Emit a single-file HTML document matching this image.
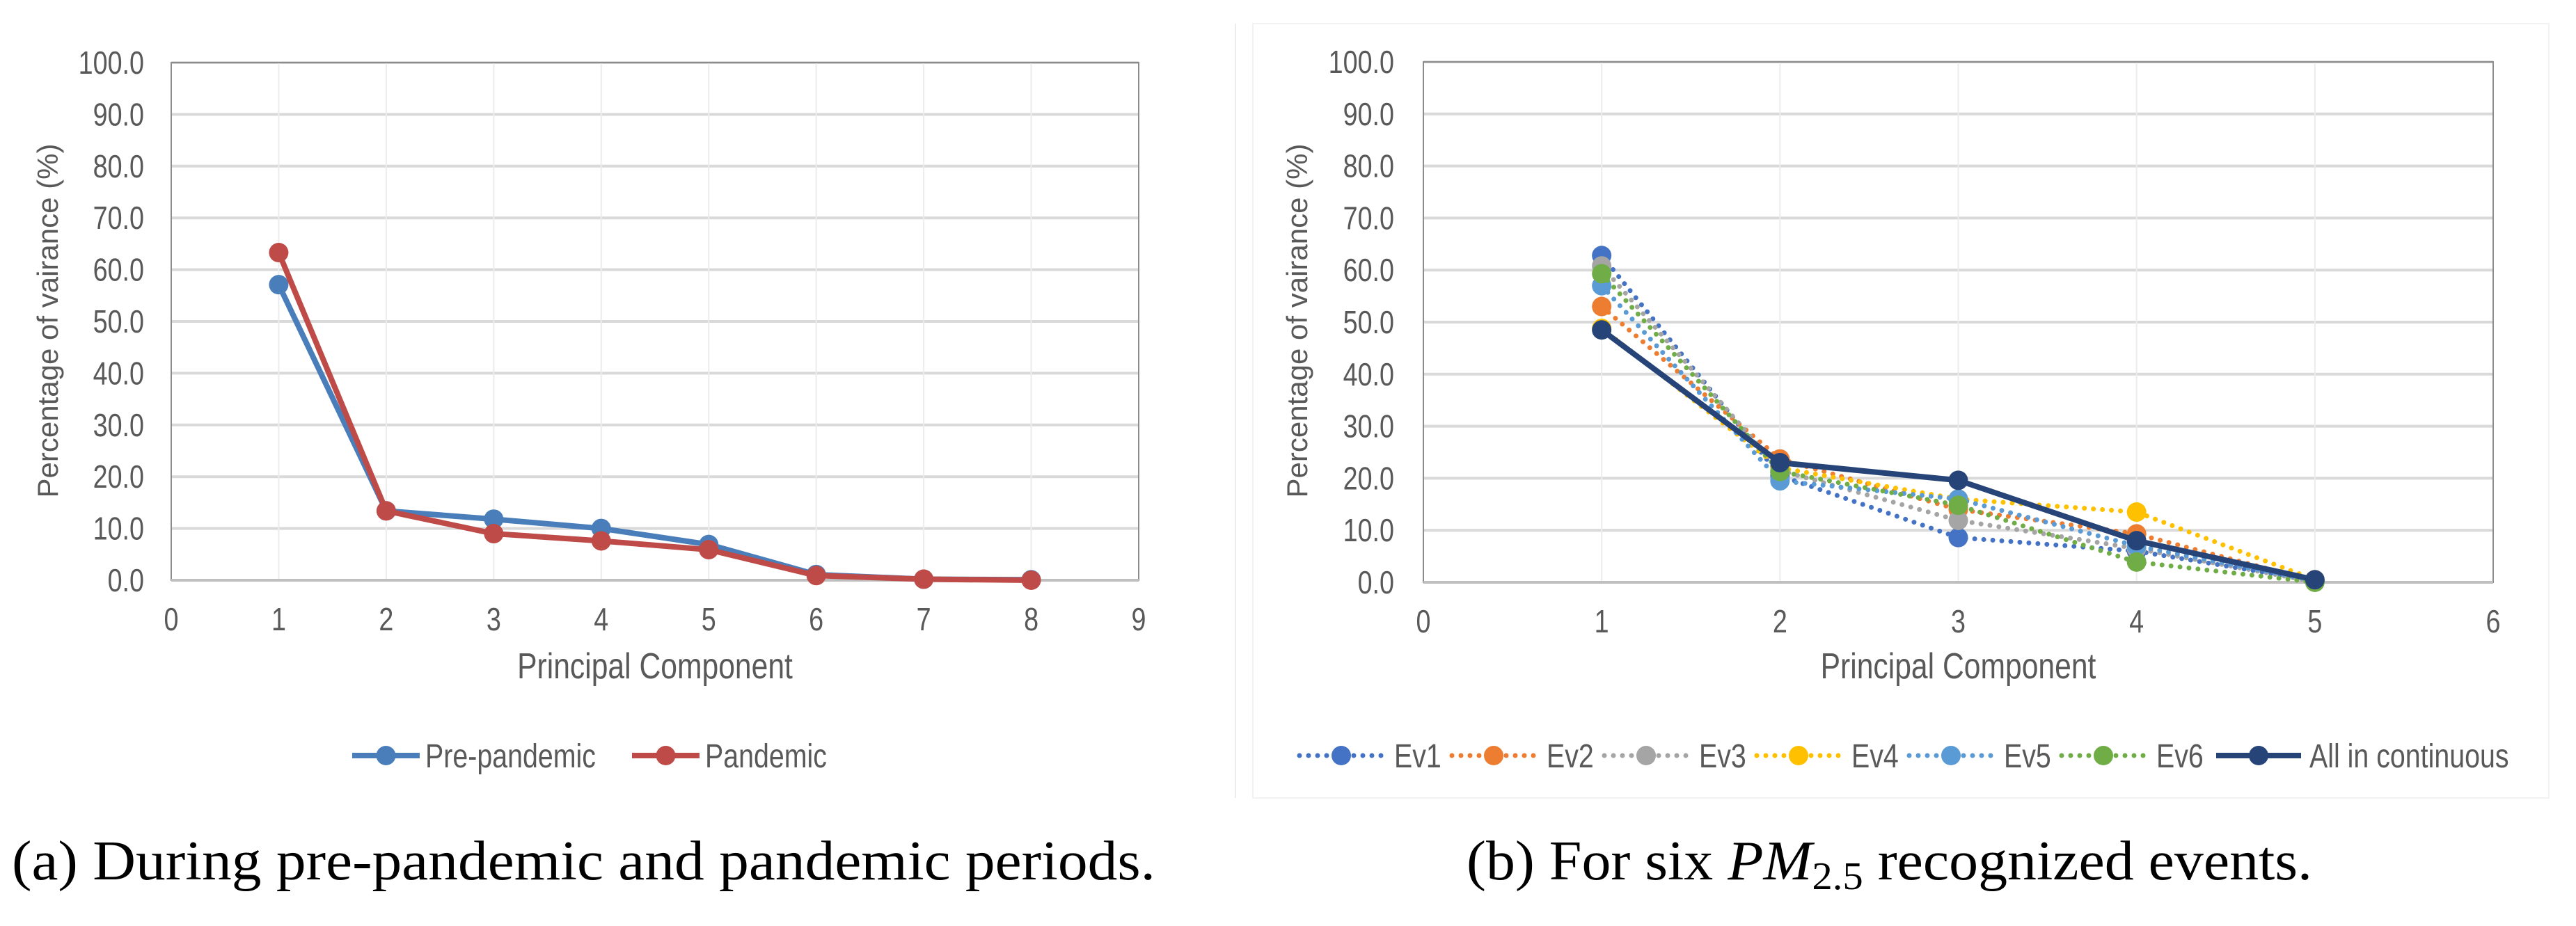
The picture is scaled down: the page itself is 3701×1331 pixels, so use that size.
<!DOCTYPE html>
<html><head><meta charset="utf-8"><style>
body{margin:0;background:#fff;}
svg{display:block;}
</style></head><body>
<svg id="root" width="3701" height="1331" viewBox="0 0 3701 1331" xmlns="http://www.w3.org/2000/svg">
<rect x="0" y="0" width="3701" height="1331" fill="#fff"/>
<line x1="1775" y1="34" x2="1775" y2="1147" stroke="#ececec" stroke-width="2"/>
<rect x="1800" y="34" width="1862" height="1113" fill="none" stroke="#f2f2f2" stroke-width="2"/>
<g id="chartA"></g>
<g id="chartB"></g>
<text x="17" y="1264" font-family="Liberation Serif, serif" font-size="80" fill="#000" textLength="1643" lengthAdjust="spacingAndGlyphs">(a)  During pre-pandemic and pandemic periods.</text>
<text x="2107" y="1264" font-family="Liberation Serif, serif" font-size="80" fill="#000" textLength="1215" lengthAdjust="spacingAndGlyphs">(b)  For six <tspan font-style="italic">PM</tspan><tspan font-size="56" dy="14">2.5</tspan><tspan dy="-14"> recognized events.</tspan></text>
</svg>
<script>
// Chart A data
const aCategories = [1,2,3,4,5,6,7,8];
const aPre = [57.1,13.4,11.8,10.0,6.9,1.1,0.2,0.1];
const aPan = [63.3,13.4,9.0,7.6,5.9,0.9,0.2,0.0];
const aXTicks = [0,1,2,3,4,5,6,7,8,9];
const yTicks = [0,10,20,30,40,50,60,70,80,90,100];
// Chart B data
const bCategories = [1,2,3,4,5];
const bEv1 = [62.8,20.5,8.6,6.0,0.3];
const bEv2 = [53.0,23.7,14.0,9.3,0.2];
const bEv3 = [60.8,21.5,11.9,6.5,0.1];
const bEv4 = [48.8,22.0,16.0,13.5,0.5];
const bEv5 = [57.0,19.5,16.0,7.0,0.3];
const bEv6 = [59.3,21.3,14.8,3.9,0.0];
const bAll = [48.5,23.0,19.6,8.0,0.5];
const bXTicks = [0,1,2,3,4,5,6];

const NS='http://www.w3.org/2000/svg';
function mk(parent,tag,attrs,text){const e=document.createElementNS(NS,tag);for(const k in attrs)e.setAttribute(k,attrs[k]);if(text!==undefined)e.textContent=text;parent.appendChild(e);return e;}
const FONT='"Liberation Sans",sans-serif';
const SX=0.82;
function ntext(parent,x,y,anchor,size,str){
  return mk(parent,'text',{x:0,y:0,'text-anchor':anchor,'font-family':FONT,'font-size':size,fill:'#595959',transform:`translate(${x},${y}) scale(${SX},1)`},str);
}

function drawChart(g,o){
  const xs=v=>o.L+(v-o.xmin)/(o.xmax-o.xmin)*(o.R-o.L);
  const ys=v=>o.B-v/100*(o.B-o.T);
  yTicks.forEach(t=>{
    const l=mk(g,'line',{x1:o.L,x2:o.R,y1:ys(t),y2:ys(t),stroke:'#d9d9d9','stroke-width':4});
    
    
    const tx=ntext(g,o.yLabR,ys(t)+16,'end',46,t.toFixed(1));
    
    
  });
  o.xTicks.forEach(t=>{
    if(t>o.xmin&&t<o.xmax){
      const l=mk(g,'line',{x1:xs(t),x2:xs(t),y1:o.T,y2:o.B,stroke:'#ececec','stroke-width':2});
      
      
    }
    const tx=ntext(g,xs(t),o.B+72,'middle',46,String(t));
    
    
  });
  const fr=mk(g,'rect',{x:o.L,y:o.T,width:o.R-o.L,height:o.B-o.T,fill:'none',stroke:'#8c8c8c','stroke-width':2});
  
  
  const xa=mk(g,'line',{x1:o.L,x2:o.R,y1:o.B,y2:o.B,stroke:'#bfbfbf','stroke-width':4});
  
  
  const xt=ntext(g,(o.L+o.R)/2,975,'middle',52,'Principal Component');
  
  
  const yt=mk(g,'text',{x:0,y:0,'text-anchor':'middle','font-family':'"Liberation Sans",sans-serif','font-size':42,fill:'#595959',transform:`translate(${o.yTitleX},461) rotate(-90)`},'Percentage of vairance (%)');
  
  
  o.series.forEach(s=>{
    const sg=mk(g,'g',{});
    
    
    const pts=s.data.map((v,i)=>xs(o.cats[i])+','+ys(v)).join(' ');
    const attrs={points:pts,fill:'none',stroke:s.color,'stroke-width':s.dotted?7:8,'stroke-linejoin':'round'};
    if(s.dotted){attrs['stroke-dasharray']='0 13';attrs['stroke-linecap']='round';}
    const pl=mk(sg,'polyline',attrs);
    
    
    s.data.forEach((v,i)=>{
      const c=mk(sg,'circle',{cx:xs(o.cats[i]),cy:ys(v),r:14,fill:s.color});
      
      
    });
  });
  o.legend.forEach(le=>{
    const lg=mk(g,'g',{});
    
    
    const a={x1:le.x1,x2:le.x2,y1:1086,y2:1086,stroke:le.s.color,'stroke-width':le.s.dotted?7:8};
    if(le.s.dotted){a['stroke-dasharray']='0 13';a['stroke-linecap']='round';}
    mk(lg,'line',a);
    mk(lg,'circle',{cx:(le.x1+le.x2)/2,cy:1086,r:14,fill:le.s.color});
    ntext(lg,le.tx,1103,'start',48,le.label);
  });
}

const sPre={key:'pre-pandemic',data:aPre,color:'#4a7ebb'};
const sPan={key:'pandemic',data:aPan,color:'#be4b48'};
drawChart(document.getElementById('chartA'),{L:246,R:1636,T:90,B:834,xmin:0,xmax:9,xTicks:aXTicks,cats:aCategories,yLabR:207,yTitleX:83,
  series:[sPre,sPan],
  legend:[{s:sPre,x1:506,x2:603,tx:611,label:'Pre-pandemic'},{s:sPan,x1:908,x2:1005,tx:1013,label:'Pandemic'}]});

const bs=[
 {key:'ev1',data:bEv1,color:'#4472c4',dotted:true},
 {key:'ev2',data:bEv2,color:'#ed7d31',dotted:true},
 {key:'ev3',data:bEv3,color:'#a5a5a5',dotted:true},
 {key:'ev4',data:bEv4,color:'#ffc000',dotted:true},
 {key:'ev5',data:bEv5,color:'#5b9bd5',dotted:true},
 {key:'ev6',data:bEv6,color:'#70ad47',dotted:true},
 {key:'all',data:bAll,color:'#264478',dotted:false}];
const legX=[1929,2148,2367,2586,2805,3024];
const legB=bs.slice(0,6).map((s,i)=>({s:s,x1:legX[i]-62,x2:legX[i]+58,tx:legX[i]+74,label:'Ev'+(i+1)}));
legB.push({s:bs[6],x1:3184,x2:3306,tx:3318,label:'All in continuous'});
drawChart(document.getElementById('chartB'),{L:2045,R:3582,T:89,B:837,xmin:0,xmax:6,xTicks:bXTicks,cats:bCategories,yLabR:2003,yTitleX:1878,
  series:bs,legend:legB});
</script>
</body></html>
